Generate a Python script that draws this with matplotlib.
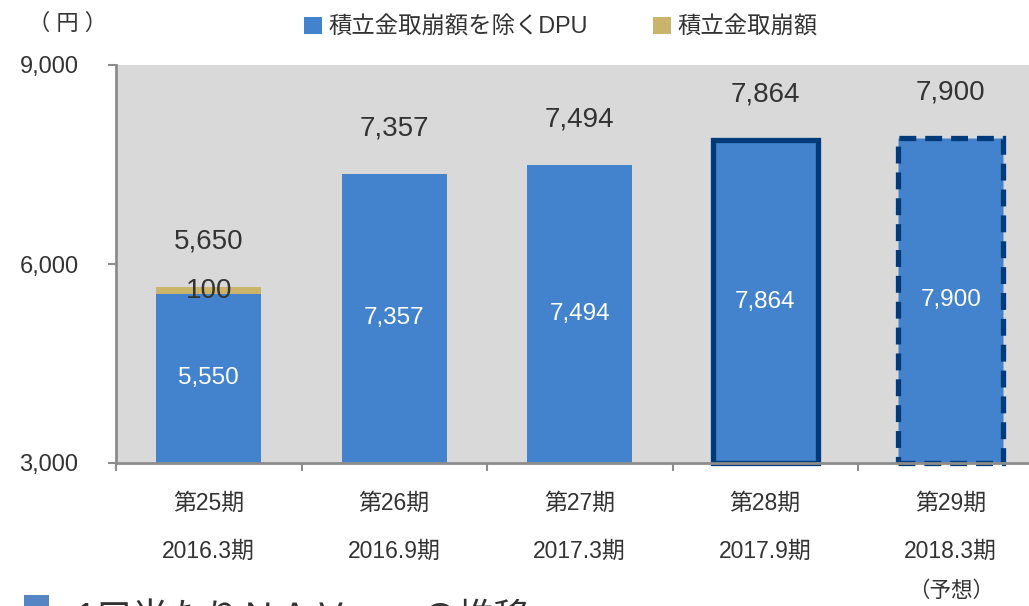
import matplotlib.pyplot as plt
import numpy as np
from matplotlib.patches import Patch

plt.rcParams["font.family"] = ["Liberation Sans", "Noto Sans CJK JP"]

periods = ["第25期", "第26期", "第27期", "第28期", "第29期"]
fiscal_periods = ["2016.3期", "2016.9期", "2017.3期", "2017.9期", "2018.3期"]
dpu_excluding_reserve = [5550, 7357, 7494, 7864, 7900]
reserve_reversal = [100, 0, 0, 0, 0]
y_ticks = [3000, 6000, 9000]

BLUE = "#4383cd"
TAN = "#cab46c"
NAVY = "#003a78"
TEXT = "#333333"
GRID_GREY = "#8c8c8c"


def main() -> None:
    fig = plt.figure(figsize=(10.29, 6.06), dpi=100)
    ax = fig.add_axes([116 / 1029, 1 - 463 / 606, 927.5 / 1029, 398 / 606])
    ax.set_facecolor("#d9d9d9")

    x = np.arange(len(periods))
    base = np.array(dpu_excluding_reserve)
    extra = np.array(reserve_reversal)
    totals = base + extra

    width = 0.566
    blue_bars = ax.bar(x, base - 3000, bottom=3000, width=width,
                       color=BLUE, linewidth=0, zorder=2)
    ax.bar(x, extra, bottom=base, width=width,
           color=TAN, linewidth=0, zorder=2)

    # actual period: solid navy frame, forecast: dashed frame
    blue_bars[3].set_edgecolor(NAVY)
    blue_bars[3].set_linewidth(3.8)
    blue_bars[3].set_clip_on(False)
    blue_bars[4].set_edgecolor(NAVY)
    blue_bars[4].set_linewidth(3.8)
    blue_bars[4].set_linestyle((0, (3.2, 1.7)))
    blue_bars[4].set_clip_on(False)

    for i in range(len(periods)):
        ax.text(x[i], (3000 + base[i]) / 2, f"{base[i]:,}", color="white",
                ha="center", va="center", fontsize=17.5, zorder=4)
        ax.annotate(f"{totals[i]:,}", (x[i], totals[i]), xytext=(0, 33),
                    textcoords="offset points", ha="center", va="center",
                    fontsize=20, color=TEXT, zorder=4)
        if extra[i] > 0:
            ax.text(x[i], base[i] + extra[i] / 2, f"{extra[i]:,}", color=TEXT,
                    ha="center", va="center", fontsize=20, zorder=4)

    ax.set_xlim(-0.5, len(periods) - 0.5)
    ax.set_ylim(3000, 9000)
    ax.set_yticks(y_ticks)
    ax.set_yticklabels([f"{v:,}" for v in y_ticks], fontsize=17, color=TEXT)
    ax.tick_params(axis="y", length=6, width=1.5, color=GRID_GREY, pad=21)

    labels = [f"{p}\n{f}" for p, f in zip(periods, fiscal_periods)]
    ax.set_xticks(x)
    ax.set_xticklabels(labels, fontsize=16.5, color=TEXT, linespacing=2.35)
    ax.tick_params(axis="x", which="major", length=0, pad=21)
    ax.set_xticks(np.arange(-0.5, len(periods), 1.0), minor=True)
    ax.tick_params(axis="x", which="minor", length=6, width=1.5,
                   color=GRID_GREY)

    # forecast note under the last period
    ax.annotate("（予想）", (x[-1], 0), xycoords=("data", "figure fraction"),
                xytext=(0, 3), textcoords="offset points", ha="center",
                va="bottom", fontsize=15.5, color=TEXT)

    for side in ("top", "right"):
        ax.spines[side].set_visible(False)
    for side in ("left", "bottom"):
        ax.spines[side].set_color(GRID_GREY)
        ax.spines[side].set_linewidth(2)
        ax.spines[side].set_zorder(3)

    handles = [Patch(facecolor=BLUE), Patch(facecolor=TAN)]
    fig.legend(handles, ["積立金取崩額を除くDPU", "積立金取崩額"],
               loc="center left", bbox_to_anchor=(283 / 1029, 1 - 27 / 606),
               ncol=2, frameon=False, fontsize=16.8, handlelength=0.75,
               handleheight=0.75, handletextpad=0.3, columnspacing=2.8,
               labelcolor=TEXT)

    fig.text(68 / 1029, 1 - 24 / 606, "（ 円 ）", ha="center", va="center",
             fontsize=16, color=TEXT)

    # heading of the next block, cut off by the bottom edge
    fig.patches.append(plt.Rectangle((24 / 1029, 1 - 625 / 606), 25 / 1029,
                                     30 / 606, transform=fig.transFigure,
                                     facecolor="#5585c2", figure=fig))
    fig.text(76 / 1029, 1 - 629 / 606, "1口当たりＮＡＶ　　の推移",
             ha="left", va="baseline", fontsize=26, color=TEXT)

    fig.savefig("out.png", dpi=100)


if __name__ == "__main__":
    main()
